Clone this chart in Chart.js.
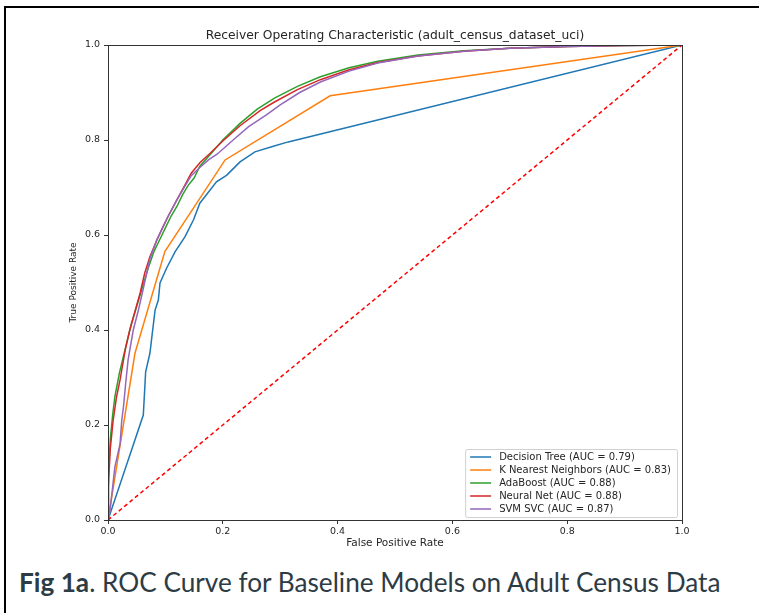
<!DOCTYPE html>
<html>
<head>
<meta charset="utf-8">
<script src="https://cdn.jsdelivr.net/npm/chart.js@4"></script>
<style>
  body { margin: 0; background: #fff; }
  #wrap { position: relative; width: 759px; height: 613px; overflow: hidden; }
  #frame { position: absolute; left: 4px; top: 6px; width: 800px; height: 700px;
           border-top: 2px solid #000; border-left: 2px solid #000; }
  canvas { position: absolute; left: 0; top: 0; }
  #caption { position: absolute; left: 19px; top: 567px; font-family: Lato, sans-serif;
             font-size: 26.2px; line-height: 30px; color: #2d3b45; white-space: nowrap; }
</style>
</head>
<body>
<div id="wrap">
  <div id="frame"></div>
  <canvas id="chart1" width="759" height="560"></canvas>
  <div id="caption"><b>Fig 1a</b>. ROC Curve for Baseline Models on Adult Census Data</div>
</div>
<script>
var title = 'Receiver Operating Characteristic (adult_census_dataset_uci)';
var labels = ['Decision Tree (AUC = 0.79)', 'K Nearest Neighbors (AUC = 0.83)',
              'AdaBoost (AUC = 0.88)', 'Neural Net (AUC = 0.88)', 'SVM SVC (AUC = 0.87)'];
var colors = ['#1f77b4', '#ff7f0e', '#2ca02c', '#d62728', '#9467bd'];
var ticks = [0.0, 0.2, 0.4, 0.6, 0.8, 1.0];

var dtFpr = [0, 0.0615, 0.0656, 0.073, 0.082, 0.0877, 0.0906, 0.102, 0.117, 0.134, 0.149, 0.160, 0.189, 0.207, 0.230, 0.256, 0.288, 0.314, 1];
var dtTpr = [0, 0.221, 0.312, 0.351, 0.442, 0.463, 0.499, 0.530, 0.565, 0.596, 0.632, 0.667, 0.712, 0.726, 0.754, 0.775, 0.787, 0.796, 1];

var knnFpr = [0, 0.047, 0.099, 0.204, 0.387, 1];
var knnTpr = [0, 0.351, 0.565, 0.758, 0.893, 1];

var adaFpr = [0, 0.001, 0.004, 0.008, 0.012, 0.02, 0.03, 0.04, 0.05, 0.06, 0.07, 0.08, 0.09, 0.10, 0.11, 0.12, 0.13, 0.14, 0.15, 0.16, 0.18, 0.20, 0.23, 0.26, 0.29, 0.33, 0.37, 0.42, 0.47, 0.54, 0.62, 0.70, 0.80, 0.90, 1];
var adaTpr = [0, 0.10, 0.17, 0.22, 0.26, 0.31, 0.36, 0.41, 0.45, 0.49, 0.53, 0.565, 0.59, 0.615, 0.64, 0.66, 0.685, 0.705, 0.72, 0.745, 0.772, 0.80, 0.835, 0.865, 0.888, 0.913, 0.933, 0.952, 0.966, 0.979, 0.988, 0.993, 0.997, 0.999, 1];

var nnFpr = [0, 0.0005, 0.004, 0.009, 0.015, 0.021, 0.030, 0.038, 0.047, 0.056, 0.064, 0.073, 0.085, 0.095, 0.105, 0.12, 0.134, 0.145, 0.16, 0.178, 0.20, 0.23, 0.265, 0.29, 0.33, 0.37, 0.42, 0.47, 0.54, 0.62, 0.70, 0.80, 0.90, 1];
var nnTpr = [0, 0.07, 0.15, 0.21, 0.26, 0.295, 0.358, 0.40, 0.439, 0.478, 0.52, 0.554, 0.589, 0.615, 0.64, 0.674, 0.705, 0.73, 0.752, 0.772, 0.798, 0.83, 0.862, 0.88, 0.906, 0.927, 0.948, 0.963, 0.977, 0.987, 0.993, 0.997, 0.999, 1];

var svmFpr = [0, 0.0035, 0.012, 0.021, 0.024, 0.027, 0.031, 0.035, 0.044, 0.053, 0.062, 0.073, 0.085, 0.095, 0.105, 0.12, 0.134, 0.145, 0.16, 0.175, 0.19, 0.218, 0.245, 0.276, 0.30, 0.334, 0.37, 0.42, 0.47, 0.54, 0.62, 0.70, 0.80, 0.90, 1];
var svmTpr = [0, 0.02, 0.112, 0.16, 0.21, 0.239, 0.29, 0.337, 0.40, 0.442, 0.49, 0.55, 0.59, 0.615, 0.64, 0.674, 0.703, 0.725, 0.742, 0.758, 0.770, 0.80, 0.828, 0.853, 0.874, 0.900, 0.922, 0.945, 0.962, 0.977, 0.987, 0.993, 0.997, 0.999, 1];

var chanceFpr = [0, 1];
var chanceTpr = [0, 1];

function pts(xs, ys) {
    return xs.map(function(x, i) { return {x: x, y: ys[i]}; });
}

var series = [[dtFpr, dtTpr], [knnFpr, knnTpr], [adaFpr, adaTpr], [nnFpr, nnTpr], [svmFpr, svmTpr]];
var datasets = series.map(function(s, i) {
    return {
        label: labels[i],
        data: pts(s[0], s[1]),
        borderColor: colors[i],
        borderWidth: 1.5,
        pointRadius: 0,
        showLine: true,
        order: 5 - i
    };
});
datasets.push({
    label: 'chance',
    data: pts(chanceFpr, chanceTpr),
    borderColor: '#ff0000',
    borderWidth: 1.5,
    borderDash: [4, 3],
    pointRadius: 0,
    showLine: true,
    order: 0
});

var txt = '#262626';
var axisFont = {family: 'DejaVu Sans', size: 9.5};

// title over the plot, box round the plot and the legend box in the lower right corner
var extras = {
    id: 'extras',
    afterDraw: function(chart) {
        var ctx = chart.ctx, a = chart.chartArea;
        ctx.save();
        ctx.fillStyle = txt;
        ctx.font = '12.3px "DejaVu Sans"';
        ctx.textAlign = 'center';
        ctx.textBaseline = 'middle';
        ctx.fillText(title, (a.left + a.right) / 2, a.top - 9);
        ctx.textAlign = 'left';

        ctx.strokeStyle = '#333';
        ctx.lineWidth = 1;
        ctx.strokeRect(Math.round(a.left) + 0.5, Math.round(a.top) + 0.5,
                       Math.round(a.right - a.left), Math.round(a.bottom - a.top));

        ctx.font = '10px "DejaVu Sans"';
        var n = labels.length, w = 0;
        labels.forEach(function(l) { w = Math.max(w, ctx.measureText(l).width); });
        var bw = w + 40, bh = n * 13 + 3;
        var bx = a.right - 5 - bw, by = a.bottom - 3 - bh;
        ctx.fillStyle = 'rgba(255,255,255,0.8)';
        ctx.strokeStyle = '#d0d0d0';
        ctx.beginPath();
        ctx.roundRect(bx + 0.5, by + 0.5, bw, bh, 2);
        ctx.fill();
        ctx.stroke();
        for (var i = 0; i < n; i++) {
            var yy = by + 8 + i * 13;
            ctx.strokeStyle = colors[i];
            ctx.lineWidth = 1.5;
            ctx.beginPath();
            ctx.moveTo(bx + 5, yy);
            ctx.lineTo(bx + 26, yy);
            ctx.stroke();
            ctx.fillStyle = txt;
            ctx.fillText(labels[i], bx + 34, yy);
        }
        ctx.restore();
    }
};

window.onload = function() {
    var ctx1 = document.getElementById('chart1').getContext('2d');
    new Chart(ctx1, {
        type: 'scatter',
        data: {datasets: datasets},
        plugins: [extras],
        options: {
            responsive: false,
            animation: false,
            layout: {padding: {left: 64, right: 77, top: 45, bottom: 0}},
            plugins: {
                legend: {display: false},
                tooltip: {enabled: false},
                title: {display: false}
            },
            scales: {
                x: {
                    type: 'linear', min: 0, max: 1,
                    afterFit: function(s) { s.height = 40; },
                    afterBuildTicks: function(s) { s.ticks = ticks.map(function(v) { return {value: v}; }); },
                    ticks: {color: txt, font: axisFont, padding: 2, maxRotation: 0,
                            callback: function(v) { return v.toFixed(1); }},
                    grid: {drawOnChartArea: false, drawTicks: true, tickLength: 4, color: '#333'},
                    border: {display: true, color: '#333'},
                    title: {display: true, text: 'False Positive Rate', color: txt,
                            font: {family: 'DejaVu Sans', size: 10.5}, padding: {top: 0, bottom: 10}}
                },
                y: {
                    type: 'linear', min: 0, max: 1,
                    afterFit: function(s) { s.width = 44; },
                    afterBuildTicks: function(s) { s.ticks = ticks.map(function(v) { return {value: v}; }); },
                    ticks: {color: txt, font: axisFont, padding: 4,
                            callback: function(v) { return v.toFixed(1); }},
                    grid: {drawOnChartArea: false, drawTicks: true, tickLength: 4, color: '#333'},
                    border: {display: true, color: '#333'},
                    title: {display: true, text: 'True Positive Rate', color: txt,
                            font: {family: 'DejaVu Sans', size: 9}, padding: {top: 4, bottom: 0}}
                }
            }
        }
    });
};
</script>
</body>
</html>
